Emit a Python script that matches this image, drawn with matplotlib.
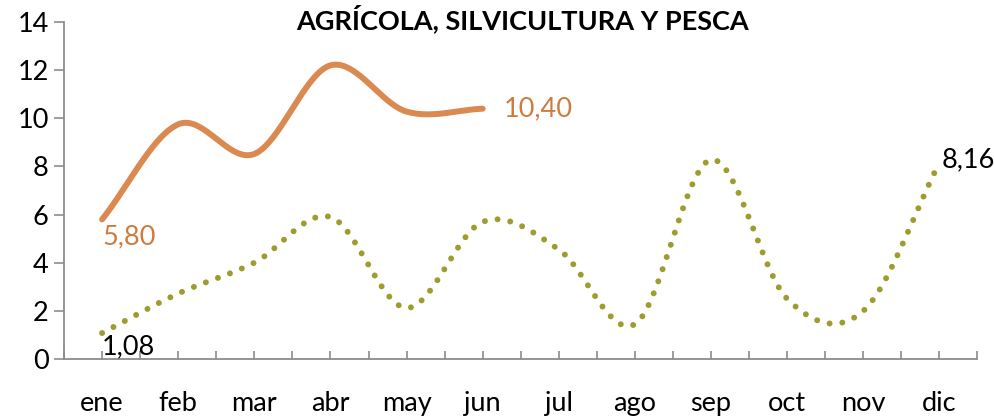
import matplotlib
matplotlib.use("Agg")
import matplotlib.pyplot as plt
import numpy as np

plt.rcParams['font.family'] = ['Lato', 'DejaVu Sans']

months = ["ene", "feb", "mar", "abr", "may", "jun", "jul", "ago", "sep", "oct", "nov", "dic"]
serie_actual = [5.80, 9.75, 8.52, 12.2, 10.28, 10.40]
serie_anterior = [1.08, 2.72, 4.0, 5.9, 2.12, 5.70, 4.55, 1.45, 8.28, 2.5, 2.0, 8.16]

ORANGE = "#DA8A50"
ORANGE_TXT = "#D07B3E"
OLIVE = "#9E9B2F"
AXIS_GREY = "#8C8C8C"
FS = 19.5


def smooth(values, n=40):
    # Catmull-Rom style spline, similar to Excel's "smoothed line"
    p = np.asarray(values, dtype=float)
    x = np.arange(len(p), dtype=float)
    xs, ys = [], []
    for i in range(len(p) - 1):
        p0 = p[i - 1] if i > 0 else p[i]
        p3 = p[i + 2] if i + 2 < len(p) else p[i + 1]
        m1 = (p[i + 1] - p0) / 2
        m2 = (p3 - p[i]) / 2
        if i == 0:
            m1 = p[i + 1] - p[i]
        if i + 2 >= len(p):
            m2 = p[i + 1] - p[i]
        t = np.linspace(0, 1, n, endpoint=(i == len(p) - 2))
        h00 = 2 * t**3 - 3 * t**2 + 1
        h10 = t**3 - 2 * t**2 + t
        h01 = -2 * t**3 + 3 * t**2
        h11 = t**3 - t**2
        ys.append(h00 * p[i] + h10 * m1 + h01 * p[i + 1] + h11 * m2)
        xs.append(x[i] + t)
    return np.concatenate(xs), np.concatenate(ys)


fig = plt.figure(figsize=(9.94, 4.16), dpi=100)
ax = fig.add_axes([0.0644, 0.137, 0.919, 0.81])

xa, ya = smooth(serie_anterior)
ax.plot(xa, ya, color=OLIVE, lw=4.3, linestyle=(0, (0.001, 2.15)),
        dash_capstyle="round", solid_capstyle="round")
xo, yo = smooth(serie_actual)
ax.plot(xo, yo, color=ORANGE, lw=4.3, solid_capstyle="round")

ax.text(0.0, serie_actual[0] - 0.2, "5,80", color=ORANGE_TXT, fontsize=FS, va="top", ha="left")
ax.text(5.28, serie_actual[-1], "10,40", color=ORANGE_TXT, fontsize=FS, va="center", ha="left")
ax.text(0.0, serie_anterior[0] - 0.05, "1,08", color="black", fontsize=FS, va="top", ha="left")
ax.text(11.03, serie_anterior[-1] + 0.1, "8,16", color="black", fontsize=FS, va="center", ha="left")

ax.set_xlim(-0.5, 11.5)
ax.set_ylim(0, 14)
ax.set_yticks(np.arange(0, 15, 2))
ax.set_xticks(np.arange(len(months)))
ax.set_xticklabels(months)
ax.set_xticks(np.arange(-0.5, 12, 1), minor=True)
ax.tick_params(axis="x", which="both", direction="in", length=6, width=1.2, color=AXIS_GREY,
               labelsize=FS, pad=23)
ax.tick_params(axis="y", direction="out", length=7, width=1.2, color=AXIS_GREY, labelsize=FS, pad=4)

for side in ["top", "right"]:
    ax.spines[side].set_visible(False)
for side in ["left", "bottom"]:
    ax.spines[side].set_color(AXIS_GREY)
    ax.spines[side].set_linewidth(1.3)

fig.text(0.526, 0.955, "AGRÍCOLA, SILVICULTURA Y PESCA", fontsize=FS, fontweight="bold",
         ha="center", va="center")

fig.savefig("out.png", dpi=100)
